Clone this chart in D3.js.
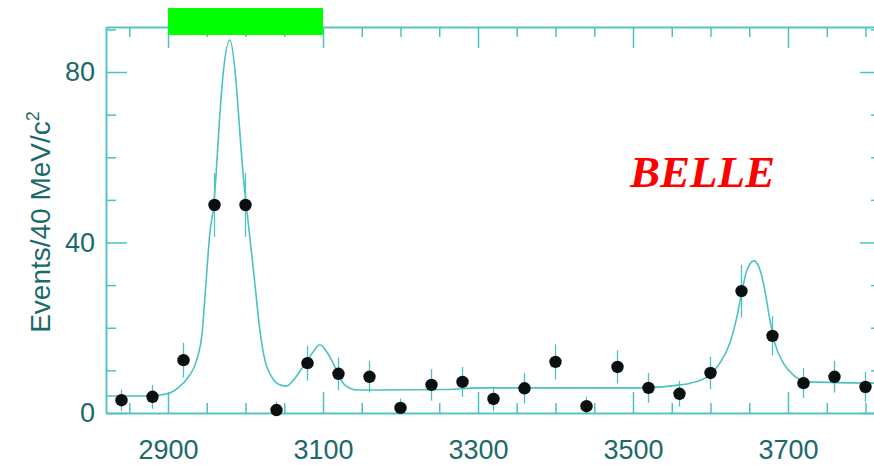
<!DOCTYPE html>
<html>
<head>
<meta charset="utf-8">
<script src="https://cdn.jsdelivr.net/npm/d3@7/dist/d3.min.js"></script>
<style>
  html, body { margin: 0; padding: 0; background: #fff; }
  svg { display: block; }
</style>
</head>
<body>
<svg id="chart" width="874" height="465"></svg>
<script>
// Bin centres (MeV/c^2) and measured events per 40 MeV/c^2 bin
const binMass = [2840, 2880, 2920, 2960, 3000, 3040, 3080, 3120, 3160, 3200, 3240, 3280, 3320,
                 3360, 3400, 3440, 3480, 3520, 3560, 3600, 3640, 3680, 3720, 3760, 3800];
const binEvents = [3.0, 3.8, 12.4, 48.8, 48.8, 0.7, 11.7, 9.2, 8.5, 1.2, 6.6, 7.3, 3.3,
                   5.8, 12.0, 1.6, 10.8, 5.9, 4.5, 9.4, 28.6, 18.1, 7.0, 8.5, 6.1];
const binError = [2.5, 2.8, 4.1, 7.5, 7.5, 2.0, 4.1, 3.8, 3.7, 2.2, 3.7, 3.5, 2.8,
                  3.6, 4.1, 2.2, 3.9, 3.5, 3.0, 3.8, 6.2, 4.6, 3.5, 3.7, 3.5];

// Fit curve samples
const fitMass = [2820, 2877, 2899, 2913, 2926, 2937, 2944, 2949, 2954, 2959, 2962, 2966, 2971,
                 2980, 2987, 2992, 2997, 3001, 3005, 3012, 3019, 3025, 3034, 3042, 3053, 3064,
                 3074, 3086, 3096, 3105, 3113, 3128, 3144, 3260, 3300, 3509, 3561, 3574, 3599,
                 3612, 3625, 3634, 3641, 3647, 3656, 3664, 3670, 3676, 3683, 3694, 3707, 3725, 3820];
const fitEvents = [4.0, 4.0, 4.5, 5.9, 8.4, 12.4, 18.8, 30.5, 42.2, 48.8, 55.8, 67.6, 79.3,
                   87.5, 79.3, 67.6, 55.8, 48.8, 42.2, 30.5, 18.8, 12.4, 8.4, 6.8, 6.3, 8.2,
                   10.8, 14.0, 16.0, 14.3, 11.7, 6.6, 5.4, 5.5, 5.9, 5.9, 6.6, 7.0, 8.9,
                   11.7, 16.4, 22.5, 28.9, 33.5, 35.7, 33.5, 28.9, 22.5, 16.4, 11.7, 8.9, 7.3, 7.0];

// Axis ticks
const xMajorTicks = [2900, 3100, 3300, 3500, 3700];
const xMinorTicks = [2850, 2950, 3000, 3050, 3150, 3200, 3250, 3350, 3400, 3450,
                     3550, 3600, 3650, 3750, 3800];
const yMajorTicks = [0, 40, 80];
const yMinorTicks = [10, 20, 30, 50, 60, 70, 90];

// Highlighted mass band
const bandRange = [2900, 3100];

const axisColor = "#4cc2c2";
const textColor = "#1b6a6a";
const fontFamily = "'Liberation Sans', Arial, Helvetica, sans-serif";

const svg = d3.select("#chart");
const frame = { left: 106, right: 881, top: 27, bottom: 413 };

const x = d3.scaleLinear().domain([2820, 3820]).range([frame.left, frame.right]);
const y = d3.scaleLinear().domain([0, 90.56]).range([frame.bottom, frame.top]);

function styleAxis(g) {
  g.selectAll("path, line").attr("stroke", axisColor).attr("stroke-width", 1.5);
  g.selectAll("text").attr("fill", textColor).attr("font-family", fontFamily).attr("font-size", 27);
}

// Bottom axis with labels, inward ticks
svg.append("g").attr("transform", `translate(0,${frame.bottom})`)
  .call(d3.axisBottom(x).tickValues(xMajorTicks).tickSize(-21).tickSizeOuter(0).tickPadding(27).tickFormat(d3.format("d")))
  .call(styleAxis);
svg.append("g").attr("transform", `translate(0,${frame.bottom})`)
  .call(d3.axisBottom(x).tickValues(xMinorTicks).tickSize(-10).tickSizeOuter(0).tickFormat(""))
  .call(styleAxis);

// Top axis
svg.append("g").attr("transform", `translate(0,${frame.top})`)
  .call(d3.axisTop(x).tickValues(xMajorTicks).tickSize(-21).tickSizeOuter(0).tickFormat(""))
  .call(styleAxis);
svg.append("g").attr("transform", `translate(0,${frame.top})`)
  .call(d3.axisTop(x).tickValues(xMinorTicks).tickSize(-10).tickSizeOuter(0).tickFormat(""))
  .call(styleAxis);

// Left axis with labels
svg.append("g").attr("transform", `translate(${frame.left},0)`)
  .call(d3.axisLeft(y).tickValues(yMajorTicks).tickSize(-21).tickSizeOuter(0).tickPadding(11).tickFormat(d3.format("d")))
  .call(styleAxis);
svg.append("g").attr("transform", `translate(${frame.left},0)`)
  .call(d3.axisLeft(y).tickValues(yMinorTicks).tickSize(-10).tickSizeOuter(0).tickFormat(""))
  .call(styleAxis);

// Right axis
svg.append("g").attr("transform", `translate(${frame.right},0)`)
  .call(d3.axisRight(y).tickValues(yMajorTicks).tickSize(-21).tickSizeOuter(0).tickFormat(""))
  .call(styleAxis);
svg.append("g").attr("transform", `translate(${frame.right},0)`)
  .call(d3.axisRight(y).tickValues(yMinorTicks).tickSize(-10).tickSizeOuter(0).tickFormat(""))
  .call(styleAxis);

// Y axis title
const yTitle = svg.append("text")
  .attr("transform", "translate(50,222) rotate(-90)")
  .attr("text-anchor", "middle")
  .attr("fill", textColor)
  .attr("font-family", fontFamily)
  .attr("font-size", 28);
yTitle.append("tspan").text("Events/40 MeV/c");
yTitle.append("tspan").attr("dy", -11).attr("font-size", 18).text("2");

// Fit curve
const line = d3.line()
  .x((d, i) => x(fitMass[i]))
  .y((d, i) => y(fitEvents[i]))
  .curve(d3.curveMonotoneX);
svg.append("path")
  .datum(fitMass)
  .attr("d", line)
  .attr("fill", "none")
  .attr("stroke", axisColor)
  .attr("stroke-width", 1.6);

// Error bars
svg.append("g").selectAll("line")
  .data(binMass)
  .join("line")
  .attr("x1", d => x(d)).attr("x2", d => x(d))
  .attr("y1", (d, i) => y(binEvents[i] + binError[i]))
  .attr("y2", (d, i) => y(Math.max(0, binEvents[i] - binError[i])))
  .attr("stroke", axisColor)
  .attr("stroke-width", 1.3);

// Data points
svg.append("g").selectAll("circle")
  .data(binMass)
  .join("circle")
  .attr("cx", d => x(d))
  .attr("cy", (d, i) => y(binEvents[i]))
  .attr("r", 6.2)
  .attr("fill", "#0a0f0f");

// Experiment label
svg.append("text")
  .attr("x", 630).attr("y", 187)
  .attr("fill", "#ff0000")
  .attr("font-family", "'Liberation Serif', 'Times New Roman', serif")
  .attr("font-weight", "bold")
  .attr("font-style", "italic")
  .attr("font-size", 45)
  .text("BELLE");

// Highlighted band above the frame
svg.append("rect")
  .attr("x", x(bandRange[0]))
  .attr("width", x(bandRange[1]) - x(bandRange[0]))
  .attr("y", 8).attr("height", 27)
  .attr("fill", "#00ff00");
</script>
</body>
</html>
